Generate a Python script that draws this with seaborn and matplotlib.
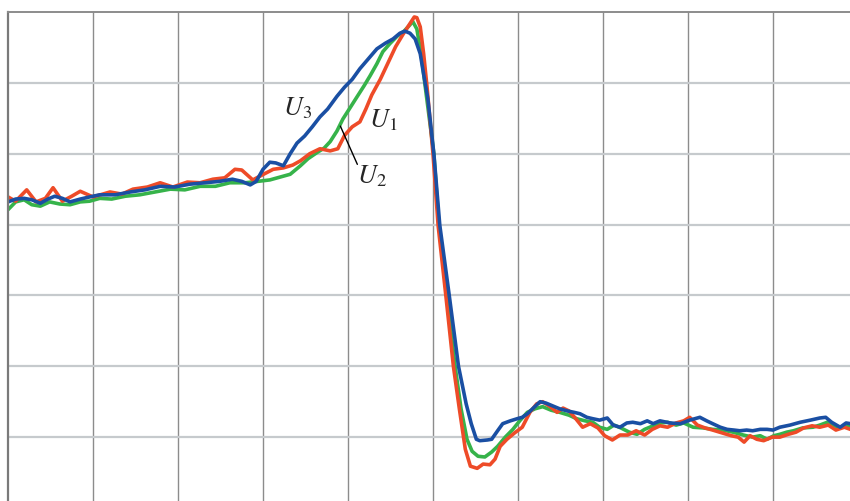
import numpy as np
import pandas as pd
import matplotlib
matplotlib.use("Agg")
import matplotlib.pyplot as plt
import seaborn as sns

# time in grid divisions, amplitude in grid divisions
t_u1 = [0, 0.09, 0.22, 0.33, 0.44, 0.53, 0.64, 0.75, 0.85, 1.00,
        1.20, 1.34, 1.47, 1.64, 1.79, 1.94, 2.11, 2.26, 2.41, 2.55,
        2.67, 2.75, 2.88, 2.99, 3.12, 3.24, 3.35, 3.44, 3.55, 3.67,
        3.79, 3.88, 3.96, 4.05, 4.14, 4.21, 4.28, 4.38, 4.47, 4.56,
        4.65, 4.72, 4.78, 4.81, 4.85, 4.89, 4.93, 5.00, 5.06, 5.15,
        5.24, 5.31, 5.38, 5.44, 5.52, 5.59, 5.67, 5.73, 5.79, 5.87,
        5.96, 6.05, 6.14, 6.22, 6.29, 6.38, 6.46, 6.53, 6.60, 6.68,
        6.76, 6.85, 6.94, 7.02, 7.11, 7.20, 7.29, 7.39, 7.49, 7.58,
        7.67, 7.76, 7.86, 7.95, 8.02, 8.11, 8.20, 8.29, 8.40, 8.51,
        8.59, 8.66, 8.73, 8.81, 8.89, 8.99, 9.08, 9.18, 9.27, 9.36,
        9.46, 9.55, 9.65, 9.74, 9.84, 9.91]
u1 = [4.39, 4.33, 4.49, 4.32, 4.37, 4.52, 4.33, 4.40, 4.47, 4.39,
      4.46, 4.43, 4.50, 4.53, 4.59, 4.53, 4.60, 4.59, 4.64, 4.66,
      4.78, 4.77, 4.63, 4.70, 4.78, 4.80, 4.84, 4.90, 5.00, 5.07,
      5.04, 5.07, 5.26, 5.38, 5.45, 5.63, 5.83, 6.05, 6.28, 6.51,
      6.69, 6.82, 6.93, 6.92, 6.79, 6.41, 5.94, 5.00, 3.99, 3.01,
      2.00, 1.40, 0.83, 0.59, 0.56, 0.62, 0.61, 0.69, 0.87, 0.97,
      1.06, 1.14, 1.35, 1.47, 1.50, 1.43, 1.35, 1.41, 1.37, 1.26,
      1.14, 1.19, 1.13, 1.02, 0.96, 1.03, 1.03, 1.09, 1.03, 1.11,
      1.16, 1.14, 1.20, 1.23, 1.28, 1.17, 1.13, 1.10, 1.06, 1.02,
      1.00, 0.93, 1.02, 0.97, 0.95, 1.00, 1.00, 1.04, 1.07, 1.13,
      1.16, 1.14, 1.17, 1.10, 1.14, 1.11]

t_u2 = [0, 0.09, 0.19, 0.28, 0.38, 0.49, 0.61, 0.73, 0.85, 0.96,
        1.08, 1.22, 1.38, 1.55, 1.73, 1.91, 2.08, 2.26, 2.44, 2.61,
        2.79, 2.94, 3.08, 3.20, 3.32, 3.44, 3.53, 3.64, 3.72, 3.79,
        3.87, 3.94, 4.02, 4.11, 4.19, 4.26, 4.34, 4.41, 4.49, 4.58,
        4.66, 4.73, 4.76, 4.81, 4.86, 4.92, 5.01, 5.07, 5.16, 5.26,
        5.33, 5.40, 5.46, 5.53, 5.61, 5.69, 5.76, 5.85, 5.94, 6.02,
        6.11, 6.20, 6.29, 6.39, 6.49, 6.60, 6.69, 6.79, 6.88, 6.96,
        7.05, 7.13, 7.21, 7.31, 7.40, 7.49, 7.59, 7.68, 7.76, 7.86,
        7.95, 8.06, 8.18, 8.29, 8.41, 8.53, 8.65, 8.76, 8.85, 8.93,
        9.01, 9.08, 9.16, 9.24, 9.35, 9.47, 9.55, 9.64, 9.72, 9.79,
        9.91]
u2 = [4.21, 4.32, 4.35, 4.28, 4.26, 4.32, 4.29, 4.28, 4.32, 4.33,
      4.37, 4.36, 4.40, 4.42, 4.46, 4.50, 4.49, 4.54, 4.54, 4.59,
      4.59, 4.61, 4.63, 4.67, 4.71, 4.83, 4.93, 5.02, 5.08, 5.17,
      5.32, 5.49, 5.64, 5.81, 5.96, 6.10, 6.27, 6.44, 6.55, 6.66,
      6.73, 6.82, 6.87, 6.76, 6.41, 5.84, 5.00, 3.99, 3.01, 2.00,
      1.40, 0.97, 0.80, 0.73, 0.72, 0.79, 0.87, 1.00, 1.11, 1.23,
      1.35, 1.40, 1.43, 1.38, 1.35, 1.31, 1.26, 1.23, 1.21, 1.14,
      1.11, 1.17, 1.13, 1.07, 1.04, 1.11, 1.16, 1.20, 1.21, 1.17,
      1.20, 1.14, 1.13, 1.11, 1.10, 1.07, 1.03, 1.00, 1.02, 0.97,
      1.02, 1.04, 1.07, 1.09, 1.13, 1.14, 1.17, 1.21, 1.16, 1.14,
      1.16]

t_u3 = [0, 0.09, 0.19, 0.28, 0.38, 0.47, 0.55, 0.64, 0.73, 0.85,
        0.96, 1.08, 1.26, 1.44, 1.61, 1.79, 1.96, 2.14, 2.32, 2.49,
        2.64, 2.75, 2.85, 2.92, 3.00, 3.08, 3.15, 3.24, 3.32, 3.40,
        3.49, 3.58, 3.67, 3.76, 3.87, 3.96, 4.05, 4.14, 4.24, 4.34,
        4.44, 4.53, 4.61, 4.67, 4.73, 4.79, 4.85, 4.89, 4.94, 5.01,
        5.08, 5.19, 5.30, 5.39, 5.45, 5.51, 5.55, 5.64, 5.69, 5.76,
        5.82, 5.91, 5.99, 6.05, 6.11, 6.18, 6.26, 6.33, 6.41, 6.49,
        6.58, 6.66, 6.73, 6.81, 6.88, 6.96, 7.05, 7.12, 7.20, 7.28,
        7.35, 7.44, 7.52, 7.59, 7.67, 7.79, 7.91, 8.02, 8.14, 8.22,
        8.29, 8.38, 8.46, 8.54, 8.61, 8.69, 8.76, 8.85, 8.93, 9.00,
        9.08, 9.20, 9.32, 9.44, 9.55, 9.62, 9.69, 9.79, 9.86, 9.91]
u3 = [4.32, 4.36, 4.37, 4.35, 4.30, 4.36, 4.40, 4.37, 4.32, 4.36,
      4.39, 4.42, 4.42, 4.46, 4.49, 4.54, 4.53, 4.57, 4.59, 4.61,
      4.64, 4.61, 4.56, 4.61, 4.78, 4.88, 4.87, 4.83, 5.00, 5.15,
      5.25, 5.38, 5.52, 5.63, 5.81, 5.94, 6.05, 6.20, 6.34, 6.48,
      6.56, 6.62, 6.70, 6.73, 6.70, 6.62, 6.41, 6.12, 5.77, 5.00,
      3.99, 3.01, 2.00, 1.47, 1.19, 0.97, 0.95, 0.96, 0.97, 1.09,
      1.19, 1.23, 1.26, 1.28, 1.33, 1.41, 1.50, 1.48, 1.44, 1.40,
      1.37, 1.35, 1.33, 1.28, 1.26, 1.24, 1.27, 1.17, 1.14, 1.20,
      1.21, 1.19, 1.23, 1.19, 1.23, 1.20, 1.19, 1.24, 1.28, 1.23,
      1.19, 1.14, 1.11, 1.10, 1.09, 1.10, 1.09, 1.11, 1.11, 1.10,
      1.14, 1.17, 1.21, 1.24, 1.27, 1.28, 1.21, 1.14, 1.20, 1.19]

series_names = ["$U_1$", "$U_2$", "$U_3$"]
colors = ["#ee4b28", "#36b34a", "#1a4fa3"]

df = pd.concat([
    pd.DataFrame({"t": t_u1, "u": u1, "s": series_names[0]}),
    pd.DataFrame({"t": t_u2, "u": u2, "s": series_names[1]}),
    pd.DataFrame({"t": t_u3, "u": u3, "s": series_names[2]}),
], ignore_index=True)

sns.set_style("white")
plt.rcParams["mathtext.fontset"] = "stix"

fig = plt.figure(figsize=(8.5, 5.02), dpi=100)
ax = fig.add_axes([8 / 850, 0, 842 / 850, 489 / 502])

# grid
for xv in range(1, 10):
    ax.axvline(xv, color="#8c8c8c", lw=1.0, zorder=0)
for yv in range(1, 7):
    ax.axhline(yv, color="#c6cacd", lw=1.6, zorder=0)

sns.lineplot(data=df, x="t", y="u", hue="s", palette=dict(zip(series_names, colors)),
             hue_order=[series_names[1], series_names[0], series_names[2]],
             lw=2.6, legend=False, ax=ax, sort=False, estimator=None)
for line in ax.get_lines():
    line.set_solid_joinstyle("round")

ax.set_xlim(0, 842 / 85)
ax.set_ylim(7 / 70.86, 7)
ax.set_xticks([])
ax.set_yticks([])
ax.set_xlabel("")
ax.set_ylabel("")
for s in ["right", "bottom"]:
    ax.spines[s].set_visible(False)
ax.spines["left"].set_color("#7a7a7a")
ax.spines["left"].set_linewidth(1.6)
ax.spines["top"].set_color("#8c8c8c")
ax.spines["top"].set_linewidth(1.4)

ax.text(3.41, 5.66, series_names[2], fontsize=19, ha="center", va="center")
ax.text(4.41, 5.49, series_names[0], fontsize=19, ha="center", va="center")
ax.text(4.28, 4.69, series_names[1], fontsize=19, ha="center", va="center")
ax.plot([3.91, 4.11], [5.39, 4.85], color="black", lw=1.0)

fig.savefig("out.png", dpi=100)
